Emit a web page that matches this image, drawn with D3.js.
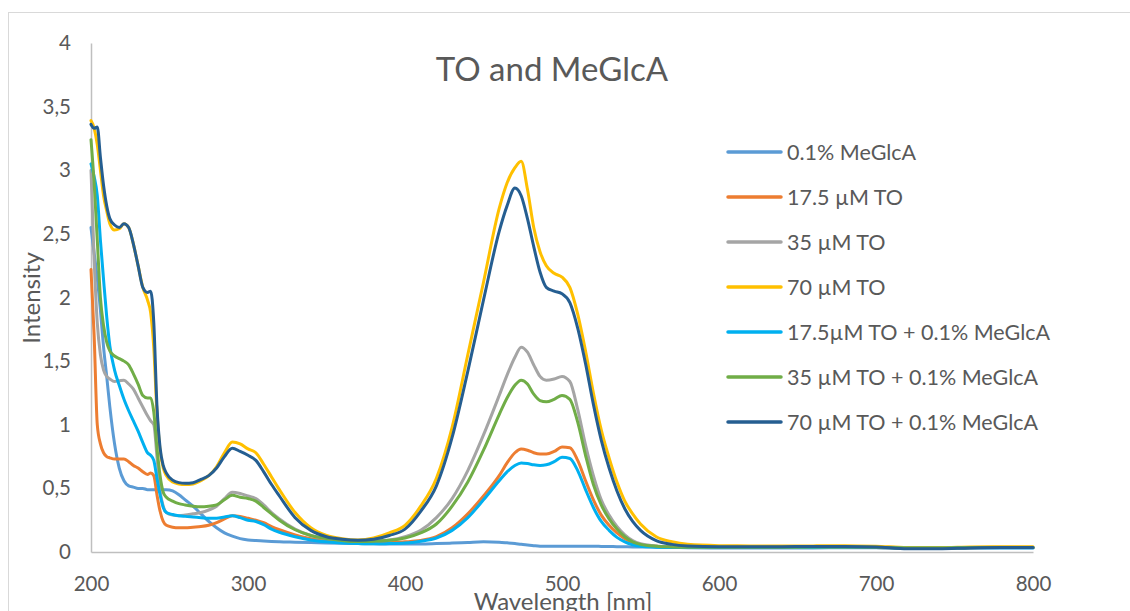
<!DOCTYPE html>
<html>
<head>
<meta charset="utf-8">
<script src="https://cdn.jsdelivr.net/npm/d3@7"></script>
<style>
  html, body { margin: 0; padding: 0; background: #ffffff; overflow: hidden; }
  svg { display: block; }
  text { font-family: Lato, "Open Sans", "Liberation Sans", sans-serif; fill: #595959; }
</style>
</head>
<body>
<svg id="chart" width="1130" height="611"></svg>
<script>
// ---------------- DATA ----------------
const chartTitle = "TO and MeGlcA";
const xAxisTitle = "Wavelength [nm]";
const yAxisTitle = "Intensity";
const xTicks = [200, 300, 400, 500, 600, 700, 800];
const yTicks = [0, 0.5, 1, 1.5, 2, 2.5, 3, 3.5, 4];

const seriesNames = [
  "0.1% MeGlcA",
  "17.5 µM TO",
  "35 µM TO",
  "70 µM TO",
  "17.5µM TO + 0.1% MeGlcA",
  "35 µM TO + 0.1% MeGlcA",
  "70 µM TO + 0.1% MeGlcA"
];
const seriesColors = ["#5B9BD5", "#ED7D31", "#A5A5A5", "#FFC000", "#00B0F0", "#70AD47", "#255E91"];

// wavelength grid (nm)
const wavelength = [
  200,202,204,206,208,210,212,
  215,218,221,224,227,230,233,236,
  238,240,242,244,246,248,
  252,256,260,
  265,270,275,280,285,290,295,300,305,310,315,320,
  330,340,350,360,370,380,390,400,410,420,430,440,450,460,
  465,470,474,478,482,486,490,495,500,505,510,515,520,525,530,535,540,545,550,
  560,570,580,
  600,620,640,660,680,700,720,740,760,780,800
];

const meglca = [
  2.55,2.35,2.15,1.9,1.61,1.38,1.14,
  0.85,0.66,0.56,0.52,0.51,0.50,0.50,0.49,
  0.49,0.49,0.49,0.49,0.49,0.49,
  0.48,0.45,0.41,
  0.36,0.30,0.24,0.19,0.15,0.125,0.105,0.095,0.09,0.087,0.083,0.08,
  0.077,0.074,0.07,0.068,0.066,0.064,0.063,0.063,0.063,0.066,0.07,0.075,0.08,0.077,
  0.072,0.066,0.06,0.055,0.05,0.046,0.045,0.045,0.046,0.046,0.046,0.045,0.045,0.044,0.043,0.042,0.041,0.04,0.04,
  0.038,0.036,0.034,
  0.032,0.032,0.032,0.032,0.033,0.033,0.03,0.03,0.032,0.032,0.032
];

const to175 = [
  2.22,1.7,1.0,0.85,0.78,0.75,0.74,
  0.73,0.73,0.73,0.71,0.68,0.66,0.63,0.61,
  0.62,0.60,0.45,0.32,0.24,0.21,
  0.195,0.19,0.19,
  0.195,0.20,0.21,0.23,0.26,0.285,0.28,0.265,0.25,0.23,0.2,0.175,
  0.135,0.105,0.09,0.08,0.075,0.072,0.075,0.08,0.09,0.12,0.19,0.30,0.44,0.60,
  0.70,0.78,0.81,0.80,0.78,0.77,0.77,0.79,0.825,0.82,0.72,0.56,0.41,0.29,0.21,0.15,0.105,0.075,0.058,
  0.045,0.04,0.038,
  0.036,0.036,0.036,0.037,0.038,0.036,0.032,0.032,0.034,0.035,0.035
];

const to35 = [
  3.0,2.3,1.8,1.55,1.43,1.38,1.36,
  1.34,1.345,1.35,1.32,1.28,1.21,1.14,1.07,
  1.03,1.0,0.75,0.48,0.36,0.31,
  0.29,0.285,0.29,
  0.30,0.31,0.33,0.36,0.42,0.47,0.46,0.44,0.42,0.37,0.31,0.26,
  0.18,0.13,0.105,0.09,0.085,0.088,0.095,0.12,0.17,0.27,0.42,0.64,0.92,1.23,
  1.39,1.53,1.61,1.57,1.47,1.38,1.35,1.36,1.38,1.34,1.12,0.84,0.60,0.41,0.29,0.20,0.135,0.09,0.065,
  0.048,0.042,0.04,
  0.04,0.04,0.04,0.04,0.041,0.04,0.033,0.033,0.036,0.038,0.038
];

const to70 = [
  3.39,3.33,3.2,3.0,2.8,2.68,2.58,
  2.53,2.54,2.58,2.55,2.42,2.25,2.08,1.98,
  1.88,1.6,1.1,0.8,0.66,0.6,
  0.55,0.535,0.53,
  0.535,0.56,0.6,0.67,0.78,0.865,0.85,0.81,0.78,0.69,0.59,0.49,
  0.31,0.19,0.13,0.105,0.095,0.11,0.15,0.21,0.36,0.58,0.98,1.55,2.12,2.70,
  2.9,3.02,3.07,2.85,2.55,2.36,2.25,2.19,2.16,2.08,1.87,1.58,1.25,0.96,0.74,0.55,0.40,0.30,0.22,
  0.12,0.08,0.06,
  0.05,0.048,0.047,0.048,0.05,0.045,0.035,0.035,0.04,0.042,0.042
];

const to175m = [
  3.05,2.95,2.8,2.45,2.14,1.85,1.62,
  1.43,1.31,1.2,1.11,1.03,0.95,0.86,0.78,
  0.76,0.72,0.58,0.45,0.35,0.31,
  0.295,0.285,0.28,
  0.275,0.27,0.265,0.265,0.275,0.285,0.27,0.25,0.24,0.215,0.18,0.155,
  0.12,0.095,0.08,0.07,0.066,0.065,0.066,0.07,0.085,0.11,0.17,0.27,0.41,0.56,
  0.63,0.68,0.70,0.695,0.685,0.68,0.685,0.71,0.745,0.735,0.64,0.49,0.35,0.24,0.17,0.115,0.08,0.057,0.045,
  0.038,0.035,0.035,
  0.035,0.035,0.035,0.036,0.037,0.035,0.03,0.03,0.033,0.034,0.034
];

const to35m = [
  3.24,2.9,2.45,2.0,1.78,1.65,1.58,
  1.54,1.52,1.50,1.47,1.40,1.32,1.23,1.21,
  1.21,1.10,0.82,0.6,0.47,0.43,
  0.40,0.38,0.37,
  0.36,0.355,0.36,0.37,0.41,0.445,0.43,0.42,0.40,0.35,0.30,0.25,
  0.175,0.13,0.105,0.09,0.082,0.085,0.092,0.11,0.15,0.22,0.36,0.55,0.80,1.08,
  1.21,1.31,1.35,1.32,1.24,1.19,1.18,1.20,1.23,1.20,1.02,0.76,0.53,0.37,0.26,0.18,0.12,0.08,0.06,
  0.045,0.04,0.038,
  0.038,0.038,0.038,0.039,0.04,0.038,0.032,0.032,0.035,0.036,0.036
];

const to70m = [
  3.36,3.33,3.34,3.1,2.88,2.72,2.62,
  2.57,2.55,2.58,2.55,2.42,2.25,2.08,2.04,
  2.05,1.8,1.15,0.82,0.68,0.62,
  0.565,0.545,0.54,
  0.545,0.57,0.6,0.66,0.75,0.815,0.79,0.76,0.72,0.63,0.53,0.44,
  0.27,0.17,0.12,0.1,0.092,0.1,0.13,0.18,0.32,0.52,0.90,1.42,1.98,2.52,
  2.72,2.86,2.80,2.62,2.40,2.20,2.08,2.05,2.03,1.96,1.76,1.48,1.16,0.88,0.66,0.48,0.34,0.24,0.17,
  0.09,0.06,0.048,
  0.042,0.042,0.042,0.043,0.044,0.04,0.025,0.025,0.032,0.035,0.035
];

const seriesValues = [meglca, to175, to35, to70, to175m, to35m, to70m];

// ---------------- CHART ----------------
const svg = d3.select("#chart");

// outer chart-area border
svg.append("rect")
  .attr("x", 8.5).attr("y", 12.5)
  .attr("width", 1140).attr("height", 620)
  .attr("fill", "#ffffff").attr("stroke", "#d9d9d9").attr("stroke-width", 1);

const x = d3.scaleLinear().domain([200, 800]).range([91, 1033]);
const y = d3.scaleLinear().domain([0, 4]).range([552, 43]);

// title
svg.append("text")
  .attr("x", 552).attr("y", 81)
  .attr("text-anchor", "middle")
  .style("font-size", "33px")
  .text(chartTitle);

// axes
const fmt = d => String(d).replace(".", ",");
const yAxis = d3.axisLeft(y).tickValues(yTicks).tickFormat(fmt).tickSize(0).tickSizeOuter(0).tickPadding(20);
const xAxis = d3.axisBottom(x).tickValues(xTicks).tickFormat(d3.format("d")).tickSize(0).tickSizeOuter(0).tickPadding(24);

const gy = svg.append("g").attr("transform", `translate(${x(200)},0)`).call(yAxis);
const gx = svg.append("g").attr("transform", `translate(0,${y(0)})`).call(xAxis);
[gy, gx].forEach(g => {
  g.select(".domain").attr("stroke", "#bfbfbf").attr("stroke-width", 1.5);
  g.selectAll("text").style("font-size", "20.5px").style("font-family", "Lato, 'Open Sans', sans-serif").attr("fill", "#595959");
});

// axis titles
svg.append("text")
  .attr("transform", `translate(40,298) rotate(-90)`)
  .attr("text-anchor", "middle")
  .style("font-size", "24px")
  .text(yAxisTitle);

svg.append("text")
  .attr("x", 563).attr("y", 610)
  .attr("text-anchor", "middle")
  .style("font-size", "24px")
  .text(xAxisTitle);

// series lines
const line = d3.line()
  .x((d, i) => x(wavelength[i]))
  .y(d => y(d))
  .curve(d3.curveMonotoneX);

svg.append("g")
  .selectAll("path")
  .data(seriesValues)
  .join("path")
  .attr("d", d => line(d))
  .attr("fill", "none")
  .attr("stroke", (d, i) => seriesColors[i])
  .attr("stroke-width", 3)
  .attr("stroke-linejoin", "round")
  .attr("stroke-linecap", "round");

// legend
const legend = svg.append("g");
const rows = legend.selectAll("g")
  .data(seriesNames)
  .join("g")
  .attr("transform", (d, i) => `translate(728,${152 + i * 45})`);
rows.append("line")
  .attr("x1", 0).attr("x2", 53).attr("y1", 0).attr("y2", 0)
  .attr("stroke", (d, i) => seriesColors[i])
  .attr("stroke-width", 3.5)
  .attr("stroke-linecap", "round");
rows.append("text")
  .attr("x", 59).attr("y", 0).attr("dy", "0.35em")
  .style("font-size", "21.5px")
  .text(d => d);
</script>
</body>
</html>
